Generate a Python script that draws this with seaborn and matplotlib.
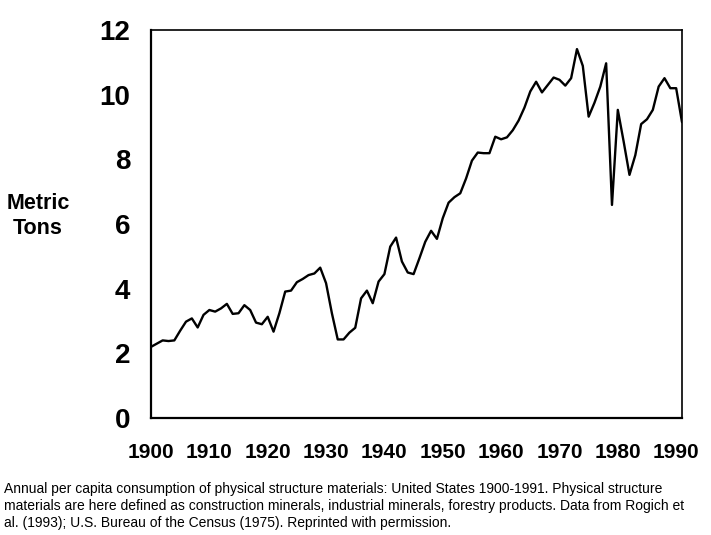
import numpy as np
import pandas as pd
import matplotlib
matplotlib.use("Agg")
import matplotlib.pyplot as plt
import seaborn as sns

# Годы и потребление (метрические тонны на душу населения)
years = list(range(1900, 1992))
tons = [
    2.2, 2.3, 2.4, 2.38, 2.4, 2.7, 2.98, 3.08, 2.8, 3.19,
    3.34, 3.29, 3.39, 3.53, 3.22, 3.24, 3.49, 3.34, 2.95, 2.9,
    3.13, 2.67, 3.24, 3.91, 3.94, 4.2, 4.3, 4.42, 4.47, 4.65,
    4.17, 3.24, 2.43, 2.43, 2.64, 2.79, 3.7, 3.94, 3.55, 4.22,
    4.45, 5.3, 5.58, 4.84, 4.5, 4.45, 4.94, 5.45, 5.79, 5.54,
    6.18, 6.66, 6.83, 6.95, 7.41, 7.96, 8.21, 8.19, 8.19, 8.7,
    8.62, 8.68, 8.9, 9.2, 9.6, 10.1, 10.4, 10.07, 10.3, 10.53,
    10.46, 10.28, 10.51, 11.41, 10.89, 9.32, 9.75, 10.25, 10.97, 6.59,
    9.53, 8.55, 7.52, 8.13, 9.09, 9.24, 9.53, 10.25, 10.51, 10.2,
    10.2, 9.15,
]
x_ticks = list(range(1900, 1991, 10))
y_ticks = [0, 2, 4, 6, 8, 10, 12]
caption = ("Annual per capita consumption of physical structure materials: United States 1900-1991. Physical structure\n"
           "materials are here defined as construction minerals, industrial minerals, forestry products. Data from Rogich et\n"
           "al. (1993); U.S. Bureau of the Census (1975). Reprinted with permission.")

sns.set_style("white")
plt.rcParams['font.family'] = ['Liberation Sans', 'DejaVu Sans']
plt.rcParams['text.color'] = 'black'
plt.rcParams['xtick.color'] = 'black'
plt.rcParams['ytick.color'] = 'black'

df = pd.DataFrame({"year": years, "tons": tons})

fig = plt.figure(figsize=(7.11, 5.35), dpi=100)
ax = fig.add_axes([151 / 711, 117 / 535, 531 / 711, 388 / 535])
sns.lineplot(data=df, x="year", y="tons", color="black", linewidth=1.7, ax=ax)

ax.set_xlim(1900, 1991)
ax.set_ylim(0, 12)
ax.set_xticks(x_ticks)
ax.set_yticks(y_ticks)
ax.set_xlabel("")
ax.set_ylabel("")
ax.tick_params(axis="both", colors="black", labelcolor="black")
ax.tick_params(axis="x", direction="in", length=6, width=1.2, pad=18, labelsize=15)
ax.tick_params(axis="y", direction="in", length=6, width=1.2, pad=15, labelsize=20)
for lab in ax.get_xticklabels() + ax.get_yticklabels():
    lab.set_fontweight("bold")
for side in ["left", "bottom"]:
    ax.spines[side].set_linewidth(1.6)
for side in ["top", "right"]:
    ax.spines[side].set_linewidth(1.2)
for sp in ax.spines.values():
    sp.set_color("black")

fig.text(38 / 711, 1 - 216 / 535, "Metric\nTons", ha="center", va="center",
         fontsize=15.5, fontweight="bold", linespacing=1.3, color="black")
fig.text(4 / 711, 1 - 482 / 535, caption, ha="left", va="top",
         fontsize=10, linespacing=1.25, color="black")

fig.savefig("out.png", dpi=100)
